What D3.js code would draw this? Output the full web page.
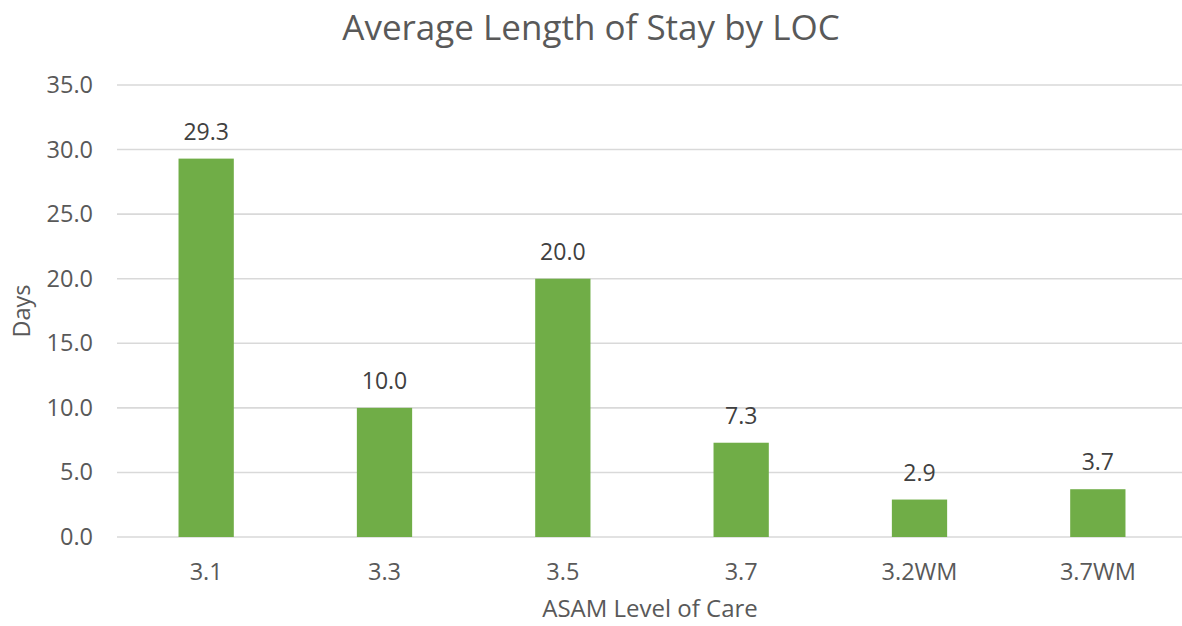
<!DOCTYPE html>
<html><head><meta charset="utf-8">
<script src="https://cdn.jsdelivr.net/npm/d3@7"></script>
<style>body{margin:0;background:#fff;} svg{display:block;}</style>
</head><body>
<svg id="chart" width="1182" height="626"></svg>
<script>
const categories = ["3.1","3.3","3.5","3.7","3.2WM","3.7WM"];
const values = [29.3, 10.0, 20.0, 7.3, 2.9, 3.7];
const yTicks = [0,5,10,15,20,25,30,35];
const title = "Average Length of Stay by LOC";
const xTitle = "ASAM Level of Care";
const yTitle = "Days";

const W = 1182, H = 626;
const m = {left:117, right:-5, top:85, bottom:89};
const svg = d3.select("#chart");
const font = "'Open Sans', sans-serif";
const txt = "#595959";

const x = d3.scaleBand().domain(categories).range([m.left, W - m.right]).paddingInner(0.69).paddingOuter(0.345);
const y = d3.scaleLinear().domain([0,35]).range([H - m.bottom, m.top]);

svg.append("g").selectAll("line").data(yTicks).join("line")
  .attr("x1", m.left).attr("x2", W)
  .attr("y1", d => y(d)).attr("y2", d => y(d))
  .attr("stroke", "#d9d9d9").attr("stroke-width", 1.6);

const yAxis = d3.axisLeft(y).tickValues(yTicks).tickFormat(d3.format(".1f")).tickSize(0).tickPadding(24);
const gy = svg.append("g").attr("transform", `translate(${m.left},0)`).call(yAxis);
gy.select(".domain").remove();
gy.selectAll("text").attr("font-family", font).attr("font-size", 23.5).attr("fill", txt);

svg.append("g").selectAll("rect").data(values).join("rect")
  .attr("x", (d,i) => x(categories[i])).attr("width", x.bandwidth())
  .attr("y", d => y(d)).attr("height", d => y(0) - y(d))
  .attr("fill", "#70ad47");

svg.append("g").selectAll("text").data(values).join("text")
  .attr("x", (d,i) => x(categories[i]) + x.bandwidth()/2)
  .attr("y", d => y(d) - 19)
  .attr("text-anchor", "middle").attr("font-family", font).attr("font-size", 23).attr("fill", "#404040")
  .text(d => d3.format(".1f")(d));

const xAxis = d3.axisBottom(x).tickSize(0).tickPadding(26);
const gx = svg.append("g").attr("transform", `translate(0,${y(0)})`).call(xAxis);
gx.select(".domain").remove();
gx.selectAll("text").attr("font-family", font).attr("font-size", 23.5).attr("fill", txt);

svg.append("text").attr("x", 591).attr("y", 40).attr("text-anchor","middle")
  .attr("font-family", font).attr("font-size", 35).attr("fill", txt).text(title);
svg.append("text").attr("x", 650).attr("y", 617).attr("text-anchor","middle")
  .attr("font-family", font).attr("font-size", 24).attr("fill", txt).text(xTitle);
svg.append("text").attr("transform", "translate(30,311) rotate(-90)").attr("text-anchor","middle")
  .attr("font-family", font).attr("font-size", 23.5).attr("fill", txt).text(yTitle);
</script>
</body></html>
